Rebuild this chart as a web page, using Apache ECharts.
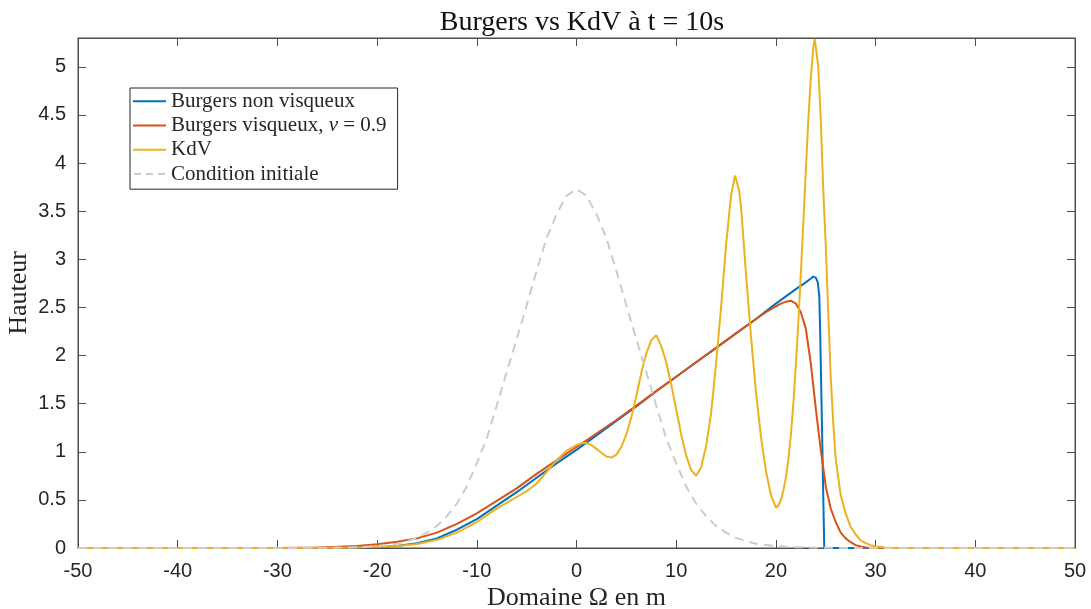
<!DOCTYPE html>
<html><head><meta charset="utf-8">
<script src="https://cdn.jsdelivr.net/npm/echarts@6/dist/echarts.min.js"></script>
<style>html,body{margin:0;padding:0;background:#fff}#c{width:1091px;height:609px}</style>
</head><body><div id="c"></div>
<script>
// ---- data ----
const xTicks = [-50, -40, -30, -20, -10, 0, 10, 20, 30, 40, 50];
const yTicks = [0, 0.5, 1, 1.5, 2, 2.5, 3, 3.5, 4, 4.5, 5];

const burgersX = [-50, -25, -22, -20, -18, -16, -14, -12, -10, -8, -6, -4, -2, 0, 2, 4, 6, 8, 10, 12, 14, 16, 18, 20, 22, 23, 23.5, 23.75, 24.0, 24.2, 24.35, 24.45, 24.85, 25, 50];
const burgersY = [0, 0.002, 0.005, 0.01, 0.02, 0.05, 0.10, 0.19, 0.30, 0.44, 0.58, 0.73, 0.88, 1.02, 1.17, 1.32, 1.47, 1.63, 1.78, 1.93, 2.08, 2.23, 2.38, 2.54, 2.69, 2.76, 2.80, 2.82, 2.81, 2.76, 2.62, 2.2, 0, 0, 0];

const viscX = [-50, -30, -26, -24, -22, -20, -18, -16, -14, -12, -10, -8, -6, -4, -2, 0, 2, 4, 6, 8, 10, 12, 14, 16, 18, 19, 20, 20.5, 21, 21.5, 22, 22.5, 23, 23.5, 24, 24.5, 25, 25.5, 26, 26.5, 27, 27.5, 28, 28.5, 29, 30, 50];
const viscY = [0, 0.001, 0.005, 0.012, 0.022, 0.04, 0.065, 0.10, 0.16, 0.25, 0.36, 0.49, 0.62, 0.77, 0.91, 1.05, 1.19, 1.33, 1.48, 1.63, 1.78, 1.93, 2.08, 2.23, 2.38, 2.45, 2.51, 2.54, 2.56, 2.57, 2.54, 2.45, 2.28, 1.92, 1.45, 1.02, 0.64, 0.41, 0.27, 0.16, 0.10, 0.06, 0.03, 0.015, 0.005, 0, 0];

const kdvX = [-50, -30, -25, -22, -20, -18, -16, -14, -12, -10, -8, -7, -6, -5, -4, -3, -2, -1, 0, 0.5, 1, 1.5, 2, 2.5, 3, 3.5, 4, 4.5, 5, 5.5, 6, 6.5, 7, 7.5, 8, 8.5, 9, 9.5, 10, 10.5, 11, 11.5, 12, 12.5, 13, 13.5, 14, 14.5, 15, 15.5, 15.9, 16.3, 16.5, 17, 17.5, 18, 18.5, 19, 19.5, 20, 20.25, 20.5, 20.75, 21, 21.25, 21.5, 21.75, 22, 22.25, 22.5, 22.75, 23, 23.25, 23.5, 23.75, 23.9, 24, 24.25, 24.5, 24.75, 25, 25.25, 25.5, 25.75, 26, 26.5, 27, 27.5, 28, 28.5, 29, 29.5, 30, 31, 32, 50];
const kdvY = [0, 0, 0.002, 0.006, 0.012, 0.022, 0.042, 0.085, 0.16, 0.27, 0.41, 0.47, 0.53, 0.59, 0.67, 0.79, 0.91, 1.01, 1.07, 1.09, 1.09, 1.07, 1.03, 0.99, 0.95, 0.94, 0.97, 1.05, 1.18, 1.36, 1.58, 1.82, 2.02, 2.16, 2.21, 2.10, 1.93, 1.70, 1.44, 1.18, 0.96, 0.81, 0.75, 0.84, 1.06, 1.40, 1.92, 2.50, 3.15, 3.66, 3.87, 3.72, 3.55, 2.85, 2.20, 1.62, 1.16, 0.80, 0.55, 0.42, 0.44, 0.50, 0.60, 0.73, 0.92, 1.17, 1.50, 1.90, 2.35, 2.85, 3.38, 3.92, 4.45, 4.88, 5.20, 5.29, 5.27, 5.00, 4.45, 3.72, 3.15, 2.45, 1.78, 1.30, 0.92, 0.55, 0.36, 0.22, 0.14, 0.08, 0.05, 0.03, 0.015, 0.005, 0, 0];

const initX = [-50, -30, -25, -22, -20, -19, -18, -17, -16, -15, -14, -13, -12, -11, -10, -9, -8, -7, -6, -5, -4, -3, -2, -1, 0, 1, 2, 3, 4, 5, 6, 7, 8, 9, 10, 11, 12, 13, 14, 15, 16, 17, 18, 19, 20, 22, 25, 30, 50];
const initY = [0, 0, 0.002, 0.008, 0.02, 0.03, 0.045, 0.07, 0.105, 0.16, 0.23, 0.33, 0.46, 0.64, 0.88, 1.14, 1.48, 1.83, 2.17, 2.52, 2.88, 3.22, 3.47, 3.66, 3.73, 3.66, 3.47, 3.22, 2.88, 2.52, 2.17, 1.83, 1.48, 1.14, 0.88, 0.64, 0.46, 0.33, 0.23, 0.16, 0.105, 0.07, 0.045, 0.03, 0.02, 0.008, 0.002, 0, 0];

const names = ['Burgers non visqueux', 'Burgers visqueux, ν = 0.9', 'KdV', 'Condition initiale'];
const colors = ['#0072BD', '#D95319', '#EDB120', '#cccccc'];

const zip = (xs, ys) => xs.map((x, i) => [x, ys[i]]);

const chart = echarts.init(document.getElementById('c'), null, {renderer: 'canvas'});
const axisCol = '#4d4d4d';
const txtCol = '#262626';
const serif = '"Liberation Serif", "DejaVu Serif", serif';
const sans = '"Liberation Sans", Arial, sans-serif';
const isTick = (arr) => (v) => arr.some(t => Math.abs(t - v) < 1e-9);
const yIsTick = isTick(yTicks);
const xIsTick = isTick(xTicks);

const solidIcon = 'path://M0 0H33V2H0Z';
const dashIcon = 'path://M0 0H7V2H0Z M12 0H19V2H12Z M24 0H31V2H24Z';

function baseAxis(extra) {
  return Object.assign({
    type: 'value',
    axisLine: {show: true, onZero: false, lineStyle: {color: axisCol, width: 1}},
    axisTick: {show: true, inside: true, length: 8, lineStyle: {color: axisCol, width: 1}},
    splitLine: {show: false}
  }, extra);
}

chart.setOption({
  backgroundColor: '#fff',
  animation: false,
  title: {
    text: 'Burgers vs KdV à t = 10s',
    left: 577, top: 4, textAlign: 'center',
    textStyle: {fontFamily: serif, fontSize: 28, fontWeight: 'normal', color: '#111'}
  },
  grid: {left: 78, right: 16, top: 38, bottom: 61, containLabel: false, outerBoundsMode: 'none',
         show: true, borderColor: axisCol, borderWidth: 1, backgroundColor: 'transparent'},
  legend: {
    orient: 'vertical', left: 130, top: 88,
    data: names.map((n, i) => ({name: n, icon: i === 3 ? dashIcon : solidIcon})),
    itemWidth: 33, itemHeight: 2, itemGap: 0,
    padding: [1, 11, 3, 3],
    backgroundColor: '#fff', borderColor: txtCol, borderWidth: 1, borderRadius: 0,
    textStyle: {fontFamily: serif, fontSize: 21, color: txtCol, lineHeight: 24.3,
      rich: {i: {fontFamily: serif, fontStyle: 'italic', fontSize: 21, color: txtCol, lineHeight: 24.3}}},
    formatter: (n) => n === names[1] ? 'Burgers visqueux, {i|ν} = 0.9' : n
  },
  xAxis: [
    baseAxis({min: xTicks[0], max: xTicks[xTicks.length - 1], interval: 10, position: 'bottom',
      axisLabel: {fontFamily: sans, fontSize: 20, color: txtCol, margin: 13,
        formatter: (v) => xIsTick(v) ? String(v) : ''},
      name: 'Domaine Ω en m', nameLocation: 'middle', nameGap: 37, nameMoveOverlap: false,
      nameTextStyle: {fontFamily: serif, fontSize: 26, color: txtCol}}),
    baseAxis({min: xTicks[0], max: xTicks[xTicks.length - 1], interval: 10, position: 'top',
      axisLabel: {show: false}})
  ],
  yAxis: [
    baseAxis({min: 0, max: 5.3, interval: 0.5, position: 'left',
      axisLabel: {fontFamily: sans, fontSize: 20, color: txtCol, margin: 12, showMaxLabel: false,
        formatter: (v) => yIsTick(v) ? String(v) : ''},
      name: 'Hauteur', nameLocation: 'middle', nameGap: 46, nameRotate: 90, nameMoveOverlap: false,
      nameTextStyle: {fontFamily: serif, fontSize: 26, color: txtCol}}),
    baseAxis({min: 0, max: 5.3, interval: 0.5, position: 'right',
      axisLabel: {show: false}})
  ],
  series: [
    {name: names[0], type: 'line', data: zip(burgersX, burgersY), showSymbol: false, symbol: 'none',
     lineStyle: {color: colors[0], width: 2}, itemStyle: {color: colors[0]}, z: 2},
    {name: names[1], type: 'line', data: zip(viscX, viscY), showSymbol: false, symbol: 'none',
     lineStyle: {color: colors[1], width: 2}, itemStyle: {color: colors[1]}, z: 3},
    {name: names[2], type: 'line', data: zip(kdvX, kdvY), showSymbol: false, symbol: 'none',
     lineStyle: {color: colors[2], width: 2}, itemStyle: {color: colors[2]}, z: 4},
    {name: names[3], type: 'line', data: zip(initX, initY), showSymbol: false, symbol: 'none',
     lineStyle: {color: colors[3], width: 2, type: [9, 6]}, itemStyle: {color: colors[3]}, z: 5}
  ]
});
</script></body></html>
